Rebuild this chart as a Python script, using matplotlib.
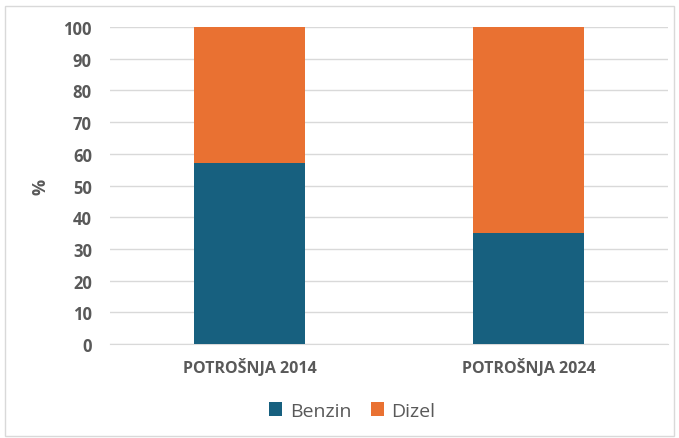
import matplotlib.pyplot as plt
from matplotlib.patches import Rectangle

categories = ["POTROŠNJA 2014", "POTROŠNJA 2024"]
benzin = [57, 35]
dizel = [43, 65]

blue = "#17607f"
orange = "#e97132"
grey = "#595959"

plt.rcParams["font.family"] = ["Open Sans", "DejaVu Sans"]

fig = plt.figure(figsize=(6.79, 4.39), dpi=100)
ax = fig.add_axes([0.162, 0.214, 0.822, 0.722])

x = range(len(categories))
ax.bar(x, benzin, width=0.4, color=blue, label="Benzin", zorder=3)
ax.bar(x, dizel, width=0.4, bottom=benzin, color=orange, label="Dizel", zorder=3)

ax.set_xlim(-0.5, 1.5)
ax.set_ylim(0, 100)
ax.set_yticks(range(0, 101, 10))
ax.grid(axis="y", color="#d9d9d9", linewidth=1, zorder=0)
ax.set_xticks(list(x))
ax.set_xticklabels(categories, fontsize=11.5, fontweight="bold", color=grey)
ax.tick_params(axis="y", labelsize=12, labelcolor=grey, length=0, pad=13)
ax.tick_params(axis="x", length=0, pad=10)
for lbl in ax.get_yticklabels():
    lbl.set_fontweight("bold")
for side in ["top", "right", "left"]:
    ax.spines[side].set_visible(False)
ax.spines["bottom"].set_color("#d9d9d9")
ax.set_ylabel("%", fontsize=13, color=grey, fontweight="bold", labelpad=10)

ax.legend(loc="center", bbox_to_anchor=(0.434, -0.211), ncol=2, frameon=False,
          fontsize=14, labelcolor=grey, handlelength=0.67, handleheight=0.67,
          handletextpad=0.4, columnspacing=1.0)

fig.patches.append(Rectangle((0.008, 0.005), 0.984, 0.978, transform=fig.transFigure,
                             fill=False, edgecolor="#d9d9d9", linewidth=1))

fig.savefig("out.png", dpi=100)
